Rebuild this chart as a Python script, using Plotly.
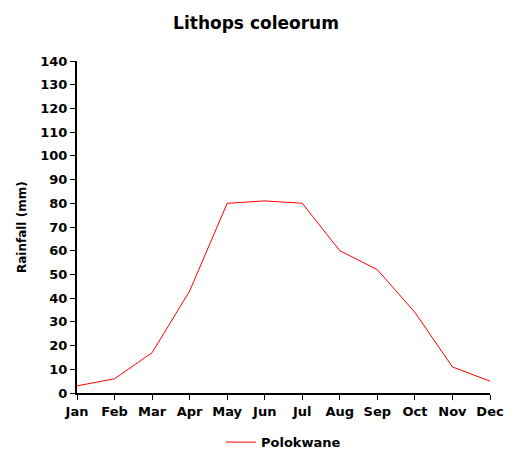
import plotly.graph_objects as go

months = ["Jan", "Feb", "Mar", "Apr", "May", "Jun",
          "Jul", "Aug", "Sep", "Oct", "Nov", "Dec"]
rainfall = [3, 6, 17, 43, 80, 81, 80, 60, 52, 34, 11, 5]
station = "Polokwane"

# page body has an 8px margin, so the figure is a bit smaller than the window
font = dict(family="DejaVu Sans, sans-serif", size=13,
            color="black", weight="bold")

fig = go.Figure()
fig.add_trace(go.Scatter(
    x=months, y=rainfall, mode="lines", name=station,
    line=dict(color="red", width=1),
    showlegend=True,
))

fig.add_annotation(
    text="Rainfall (mm)", textangle=-90,
    xref="paper", yref="paper", x=-0.133, y=0.5,
    xanchor="center", yanchor="middle", showarrow=False,
    font=dict(size=12, weight="bold"),
)

fig.update_layout(
    width=514, height=461,
    margin=dict(l=69, r=32, t=53, b=71),
    paper_bgcolor="white", plot_bgcolor="white",
    font=font,
    title=dict(text="Lithops coleorum", x=0.4825, xanchor="center",
               y=0.967, yanchor="middle",
               font=dict(family="DejaVu Sans, sans-serif",
                         size=17, color="black", weight="bold")),
    showlegend=True,
    legend=dict(orientation="h", x=0.5, xanchor="center",
                y=-0.148, yanchor="middle",
                font=dict(size=13, weight="bold")),
    xaxis=dict(range=[0, 11], showline=True, linecolor="black",
               linewidth=2, ticks="outside", ticklen=5, tickcolor="black",
               showgrid=False, zeroline=False, automargin=False),
    yaxis=dict(range=[0, 140], dtick=10, showline=True, linecolor="black",
               linewidth=2, ticks="outside", ticklen=5, tickcolor="black",
               showgrid=False, zeroline=False, automargin=False),
)

fig.write_html("out.html")
